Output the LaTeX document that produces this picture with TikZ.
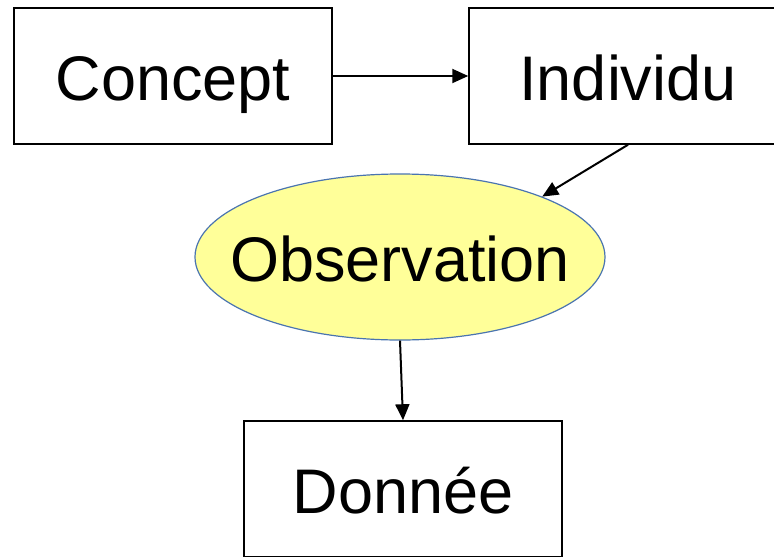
\documentclass[tikz,border=0pt]{standalone}
\usepackage{fontspec}
\setmainfont{Liberation Sans}
\usetikzlibrary{arrows.meta,shapes.geometric}
\definecolor{obsfill}{HTML}{FFFF99}
\definecolor{obsdraw}{HTML}{4A74B0}
\begin{document}
\begin{tikzpicture}[x=1pt,y=-1pt,
  bigtext/.style={font=\fontsize{63}{70}\selectfont,text height=50pt,text depth=2pt},
  boxnode/.style={draw=black,line width=1.5pt,minimum width=318pt,minimum height=136pt,inner sep=0pt,bigtext},
  ellnode/.style={ellipse,draw=obsdraw,fill=obsfill,line width=1.2pt,minimum width=410pt,minimum height=166pt,inner sep=0pt},
  conn/.style={line width=2pt,-{Triangle[length=16pt,width=14pt]}}]
\useasboundingbox (0,0) rectangle (774,557);
\clip (0,0) rectangle (774,557);
\node[boxnode] (concept) at (173,76) {Concept};
\node[boxnode] (individu) at (628,76) {Individu};
\node[ellnode] (obs) at (400,257) {};
\node[bigtext,inner sep=0pt] (obstext) at (obs.center) {Observation};
\node[boxnode] (donnee) at (403,489) {Donnée};
\draw[conn] (concept.east) -- (individu.west);
\draw[conn] (individu.south) -- (obs.23);
\draw[conn] (obs.south) -- (donnee.north);
\end{tikzpicture}
\end{document}
